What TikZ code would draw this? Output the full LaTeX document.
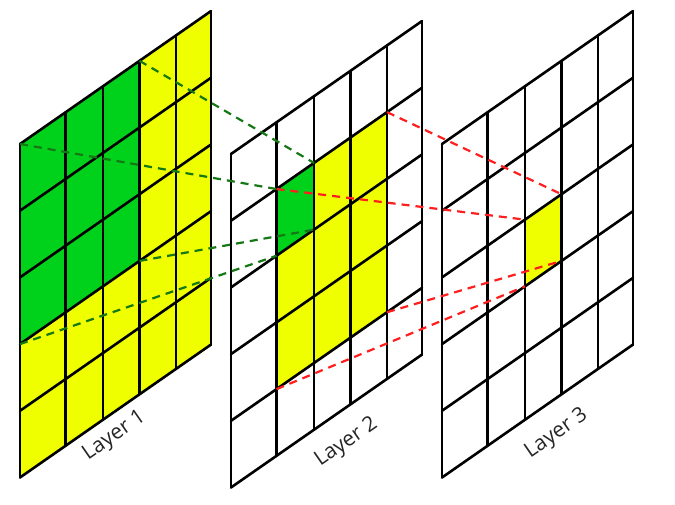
\documentclass[tikz,border=0pt]{standalone}
\usepackage{fontspec}
\setsansfont{Open Sans}
\definecolor{cellgreen}{RGB}{0,210,28}
\definecolor{cellyellow}{RGB}{240,255,0}
\definecolor{linkgreen}{RGB}{20,120,20}
\definecolor{linkred}{RGB}{255,30,30}
\begin{document}
\begin{tikzpicture}[x=1pt,y=-1pt,
    grid/.style={line width=2.6pt,line cap=round,line join=round},
    greenlink/.style={linkgreen,line width=2.2pt,dash pattern=on 8pt off 6pt},
    redlink/.style={linkred,line width=2.2pt,dash pattern=on 8pt off 6pt},
    layerlabel/.style={font=\sffamily\fontsize{21}{25}\selectfont,rotate=34.8,text=black!85}]
  \useasboundingbox (0,0) rectangle (675,504);
  \foreach \l/\lx/\ly in {1/20/144,2/231/154,3/442/144}{
    \foreach \c/\cx in {0/0,1/45.5,2/83,3/119.5,4/156,5/191}{
      \foreach \r in {0,...,5}{
        \coordinate (L\l-\c-\r) at ({\lx+\cx},{\ly+66.7*\r-0.696*\cx});
      }
    }
  }
  \fill[cellyellow] (L1-0-0) -- (L1-5-0) -- (L1-5-5) -- (L1-0-5) -- cycle;
  \fill[cellgreen] (L1-0-0) -- (L1-3-0) -- (L1-3-3) -- (L1-0-3) -- cycle;
  \fill[cellyellow] (L2-1-1) -- (L2-4-1) -- (L2-4-4) -- (L2-1-4) -- cycle;
  \fill[cellgreen] (L2-1-1) -- (L2-2-1) -- (L2-2-2) -- (L2-1-2) -- cycle;
  \fill[cellyellow] (L3-2-2) -- (L3-3-2) -- (L3-3-3) -- (L3-2-3) -- cycle;
  \foreach \l in {1,2,3}{
    \foreach \i in {0,...,5}{
      \draw[grid] (L\l-\i-0) -- (L\l-\i-5);
      \draw[grid] (L\l-0-\i) -- (L\l-5-\i);
    }
  }
  \draw[greenlink] (L1-3-0) -- (L2-2-1);
  \draw[greenlink] (L1-0-0) -- (L2-1-1);
  \draw[greenlink] (L1-3-3) -- (L2-2-2);
  \draw[greenlink] (L1-0-3) -- (L2-1-2);
  \draw[redlink] (L2-4-1) -- (L3-3-2);
  \draw[redlink] (L2-1-1) -- (L3-2-2);
  \draw[redlink] (L2-4-4) -- (L3-3-3);
  \draw[redlink] (L2-1-4) -- (L3-2-3);
  \node[layerlabel] (lab1) at (114.5,436) {Layer 1};
  \node[layerlabel] (lab2) at (346.5,442.5) {Layer 2};
  \node[layerlabel] (lab3) at (556.5,434) {Layer 3};
\end{tikzpicture}
\end{document}
